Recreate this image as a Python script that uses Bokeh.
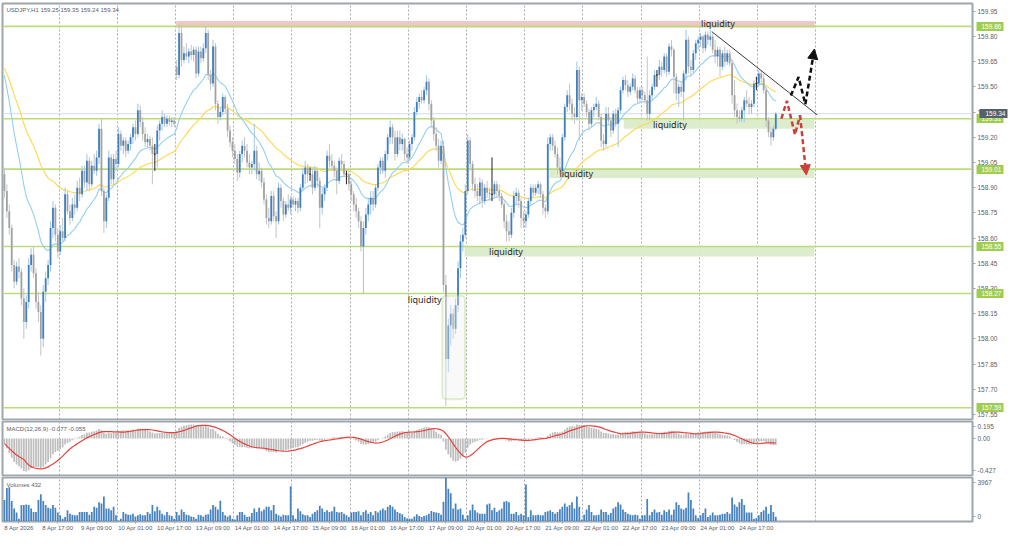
from bokeh.plotting import figure
from bokeh.layouts import column
from bokeh.models import (Range1d, FixedTicker, Label, BoxAnnotation, Arrow, NormalHead,
                          ColumnDataSource, Grid, NumeralTickFormatter, LinearAxis)
from bokeh.core.properties import value
from bokeh.embed import file_html
from bokeh.resources import INLINE

# ---------------- data (USDJPY H1) ----------------
opens = [
158.98,158.88,158.76,158.66,158.44,158.34,158.43,158.40,158.24,158.10,
158.22,158.44,158.50,158.39,158.22,158.16,158.00,158.28,158.36,158.44,
158.66,158.78,158.62,158.52,158.64,158.60,158.86,158.76,158.72,158.80,
158.78,158.90,158.86,159.00,158.93,159.06,158.92,159.03,159.00,159.08,
159.25,158.88,158.70,158.84,159.08,158.95,159.07,159.04,159.22,159.15,
159.18,159.12,159.16,159.20,159.26,159.22,159.36,159.29,159.22,159.17,
159.19,159.15,159.10,159.10,159.24,159.28,159.32,159.28,159.31,159.29,
159.30,159.62,159.57,159.82,159.66,159.70,159.68,159.71,159.69,159.72,
159.58,159.71,159.67,159.73,159.82,159.57,159.52,159.74,159.40,159.32,
159.35,159.44,159.37,159.24,159.17,159.12,159.07,158.99,159.10,159.15,
159.12,159.05,159.02,159.04,159.12,158.98,159.00,158.93,158.83,158.72,
158.70,158.85,158.73,158.70,158.90,158.82,158.74,158.80,158.78,158.83,
158.80,158.82,158.78,158.90,158.98,159.02,158.98,158.98,158.90,159.00,
158.94,158.78,158.86,158.90,159.09,159.06,159.03,159.00,158.94,159.06,
159.04,158.98,158.98,158.92,158.86,158.80,158.76,158.70,158.55,158.66,
158.74,158.80,158.84,158.80,158.90,159.02,159.06,159.00,159.10,159.20,
159.26,159.20,159.10,159.20,159.16,159.19,159.10,159.08,159.16,159.20,
159.35,159.41,159.44,159.42,159.48,159.53,159.40,159.30,159.22,159.15,
159.06,159.15,158.32,157.88,158.08,158.15,158.06,158.20,158.42,158.58,
158.62,158.88,159.18,159.04,158.92,158.88,158.85,158.93,158.82,158.90,
158.87,158.86,158.86,158.92,158.88,158.85,158.80,158.70,158.64,158.62,
158.75,158.85,158.87,158.82,158.72,158.70,158.74,158.82,158.90,158.87,
158.90,158.92,158.86,158.78,158.76,159.16,159.20,159.15,159.10,159.02,
159.00,159.20,159.38,159.45,159.40,159.34,159.32,159.60,159.42,159.44,
159.40,159.35,159.28,159.36,159.38,159.40,159.32,159.18,159.16,159.34,
159.30,159.24,159.34,159.28,159.36,159.48,159.54,159.51,159.47,159.50,
159.55,159.48,159.43,159.48,159.45,159.42,159.34,159.45,159.50,159.57,
159.57,159.62,159.60,159.68,159.59,159.74,159.72,159.56,159.46,159.50,
159.47,159.58,159.78,159.62,159.60,159.70,159.76,159.78,159.80,159.73,
159.81,159.78,159.80,159.72,159.68,159.72,159.62,159.70,159.65,159.70,
159.64,159.45,159.36,159.32,159.31,159.36,159.42,159.40,159.38,159.40,
159.52,159.52,159.58,159.55,159.48,159.30,159.23,159.20,159.25]
highs = [
159.02,158.92,158.80,158.68,158.47,158.46,158.48,158.42,158.30,158.26,
158.48,158.54,158.55,158.42,158.28,158.20,158.32,158.40,158.47,158.70,
158.82,158.80,158.66,158.68,158.72,158.90,158.88,158.80,158.84,158.86,
158.94,158.96,159.03,159.03,159.10,159.08,159.06,159.10,159.12,159.28,
159.31,158.90,158.86,159.12,159.10,159.10,159.12,159.26,159.24,159.20,
159.20,159.18,159.22,159.28,159.30,159.40,159.39,159.32,159.26,159.22,
159.21,159.20,159.16,159.27,159.30,159.36,159.34,159.33,159.33,159.32,
159.32,159.66,159.87,159.86,159.74,159.76,159.73,159.75,159.74,159.74,
159.74,159.74,159.76,159.86,159.84,159.60,159.78,159.76,159.42,159.38,
159.46,159.45,159.40,159.27,159.20,159.16,159.10,159.12,159.18,159.20,
159.16,159.10,159.06,159.28,159.15,159.05,159.02,158.96,158.86,158.78,
158.88,158.88,158.76,158.93,158.92,158.84,158.82,158.86,158.85,158.85,
158.84,158.84,158.92,159.02,159.06,159.04,159.02,159.02,159.03,159.02,
158.96,158.90,158.92,159.12,159.16,159.10,159.06,159.02,159.08,159.10,
159.06,159.00,159.00,158.94,158.88,158.84,158.78,158.73,158.70,158.78,
158.84,158.88,158.88,158.92,159.04,159.08,159.08,159.12,159.22,159.30,
159.28,159.24,159.24,159.24,159.22,159.20,159.14,159.18,159.22,159.38,
159.44,159.46,159.48,159.50,159.57,159.55,159.42,159.32,159.26,159.19,
159.18,159.18,158.38,158.12,158.20,158.18,158.24,158.46,158.62,158.66,
158.92,159.22,159.20,159.06,158.96,158.92,158.96,158.95,158.92,158.94,
158.90,159.08,158.94,158.94,158.92,158.87,158.82,158.74,158.70,158.78,
158.88,158.90,158.89,158.84,158.76,158.76,158.84,158.92,158.92,158.92,
158.94,158.93,158.88,158.80,159.20,159.22,159.22,159.18,159.14,159.08,
159.22,159.40,159.48,159.52,159.43,159.38,159.65,159.62,159.46,159.46,
159.42,159.37,159.38,159.40,159.44,159.42,159.34,159.22,159.38,159.38,
159.32,159.36,159.37,159.38,159.50,159.56,159.57,159.54,159.52,159.58,
159.57,159.50,159.50,159.50,159.47,159.68,159.48,159.52,159.60,159.60,
159.66,159.65,159.70,159.70,159.76,159.78,159.73,159.58,159.52,159.53,
159.60,159.84,159.80,159.66,159.72,159.78,159.80,159.82,159.81,159.83,
159.83,159.84,159.82,159.78,159.74,159.74,159.72,159.74,159.72,159.72,
159.66,159.54,159.40,159.36,159.38,159.44,159.48,159.44,159.42,159.54,
159.56,159.60,159.60,159.58,159.50,159.32,159.26,159.27,159.35]
lows = [
158.84,158.72,158.62,158.40,158.30,158.32,158.36,158.20,158.00,158.06,
158.18,158.40,158.36,158.18,158.10,157.90,157.95,158.22,158.32,158.40,
158.60,158.58,158.48,158.50,158.58,158.58,158.74,158.68,158.70,158.74,
158.76,158.82,158.84,158.90,158.88,158.88,158.90,158.98,158.97,159.04,
158.85,158.63,158.66,158.82,158.92,158.92,159.00,159.02,159.12,159.10,
159.08,159.10,159.12,159.16,159.18,159.20,159.26,159.18,159.14,159.14,
159.12,158.92,159.00,159.02,159.18,159.24,159.26,159.26,159.27,159.26,
159.26,159.54,159.55,159.62,159.64,159.66,159.64,159.66,159.65,159.55,
159.56,159.64,159.65,159.70,159.54,159.48,159.50,159.36,159.28,159.30,
159.33,159.34,159.20,159.14,159.08,159.04,158.94,158.96,159.05,159.08,
159.02,158.98,158.98,159.00,158.95,158.94,158.90,158.80,158.68,158.66,
158.68,158.70,158.60,158.68,158.78,158.70,158.72,158.76,158.74,158.78,
158.76,158.75,158.76,158.88,158.92,158.93,158.94,158.86,158.88,158.90,
158.66,158.74,158.82,158.88,159.02,159.00,158.96,158.86,158.92,159.00,
158.96,158.92,158.88,158.82,158.76,158.72,158.66,158.52,158.27,158.62,
158.70,158.74,158.76,158.78,158.88,158.98,158.98,158.96,159.06,159.16,
159.16,159.06,159.08,159.12,159.12,159.06,159.04,159.06,159.12,159.18,
159.33,159.37,159.40,159.40,159.45,159.36,159.26,159.18,159.12,159.02,
159.04,158.28,157.60,157.80,157.96,158.00,158.03,158.16,158.36,158.52,
158.60,158.86,159.00,158.88,158.84,158.82,158.80,158.78,158.80,158.84,
158.82,158.82,158.84,158.84,158.82,158.78,158.66,158.58,158.58,158.60,
158.72,158.80,158.78,158.66,158.66,158.66,158.72,158.80,158.84,158.85,
158.86,158.84,158.74,158.72,158.74,159.12,159.12,159.08,158.98,158.98,
158.98,159.18,159.35,159.36,159.30,159.28,159.30,159.18,159.36,159.38,
159.32,159.24,159.26,159.32,159.36,159.30,159.14,159.12,159.14,159.28,
159.20,159.22,159.26,159.14,159.34,159.46,159.48,159.44,159.45,159.48,
159.46,159.40,159.41,159.42,159.40,159.30,159.30,159.42,159.48,159.50,
159.54,159.56,159.58,159.56,159.57,159.68,159.46,159.42,159.38,159.44,
159.30,159.54,159.58,159.56,159.58,159.66,159.72,159.74,159.70,159.71,
159.75,159.74,159.70,159.64,159.62,159.56,159.60,159.62,159.63,159.62,
159.40,159.32,159.28,159.29,159.29,159.29,159.38,159.34,159.34,159.38,
159.48,159.50,159.52,159.46,159.26,159.20,159.15,159.18,159.24]
closes = [
158.88,158.76,158.66,158.44,158.34,158.43,158.40,158.24,158.10,158.22,
158.44,158.50,158.39,158.22,158.16,158.00,158.28,158.36,158.44,158.66,
158.78,158.62,158.52,158.64,158.60,158.86,158.76,158.72,158.80,158.78,
158.90,158.86,159.00,158.93,159.06,158.92,159.03,159.00,159.08,159.25,
158.88,158.70,158.84,159.08,158.95,159.07,159.04,159.22,159.15,159.18,
159.12,159.16,159.20,159.26,159.22,159.36,159.29,159.22,159.17,159.19,
159.15,159.10,159.10,159.24,159.28,159.32,159.28,159.31,159.29,159.30,
159.28,159.57,159.82,159.66,159.70,159.68,159.71,159.69,159.72,159.58,
159.71,159.67,159.73,159.82,159.57,159.52,159.74,159.40,159.32,159.35,
159.44,159.37,159.24,159.17,159.12,159.07,158.99,159.10,159.15,159.12,
159.05,159.02,159.04,159.12,158.98,159.00,158.93,158.83,158.72,158.70,
158.85,158.73,158.70,158.90,158.82,158.74,158.80,158.78,158.83,158.80,
158.82,158.78,158.90,158.98,159.02,158.98,158.98,158.90,159.00,158.94,
158.78,158.86,158.90,159.09,159.06,159.03,159.00,158.94,159.06,159.04,
158.98,158.98,158.92,158.86,158.80,158.76,158.70,158.55,158.66,158.74,
158.80,158.84,158.80,158.90,159.02,159.06,159.00,159.10,159.20,159.26,
159.20,159.10,159.20,159.16,159.19,159.10,159.08,159.16,159.20,159.35,
159.41,159.44,159.42,159.48,159.53,159.40,159.30,159.22,159.15,159.06,
159.15,158.32,157.88,158.08,158.15,158.06,158.20,158.42,158.58,158.62,
158.88,159.18,159.04,158.92,158.88,158.85,158.93,158.82,158.90,158.87,
158.86,158.86,158.92,158.88,158.85,158.80,158.70,158.64,158.62,158.75,
158.85,158.87,158.82,158.72,158.70,158.74,158.82,158.90,158.87,158.90,
158.92,158.86,158.78,158.76,159.16,159.20,159.15,159.10,159.02,159.00,
159.20,159.38,159.45,159.40,159.34,159.32,159.60,159.42,159.44,159.40,
159.35,159.28,159.36,159.38,159.40,159.32,159.18,159.16,159.34,159.30,
159.24,159.34,159.28,159.36,159.48,159.54,159.51,159.47,159.50,159.55,
159.48,159.43,159.48,159.45,159.42,159.34,159.45,159.50,159.57,159.57,
159.62,159.60,159.68,159.59,159.74,159.72,159.56,159.46,159.50,159.47,
159.58,159.78,159.62,159.60,159.70,159.76,159.78,159.80,159.73,159.81,
159.78,159.80,159.72,159.68,159.72,159.62,159.70,159.65,159.70,159.64,
159.45,159.36,159.32,159.31,159.36,159.42,159.40,159.38,159.40,159.52,
159.52,159.58,159.55,159.48,159.30,159.23,159.20,159.25,159.34]
volumes = [
1940,3018,3080,1848,1170,801,246,1478,1478,1540,
1478,1170,862,862,1940,2464,1848,1478,1232,1170,
1478,1232,801,554,246,400,1016,708,616,554,
554,862,862,862,862,616,862,1324,1232,1725,
1632,2248,1170,1170,1016,1324,554,92,246,862,
708,616,616,708,462,554,647,554,554,862,
708,1478,924,1324,1016,708,554,862,554,493,
246,862,554,1078,862,616,554,462,400,246,
616,554,462,616,647,1078,1478,1324,1078,1879,
862,554,462,554,246,185,554,862,862,616,
400,462,770,1170,862,1232,924,1078,1324,1324,
1016,1478,708,554,462,616,554,554,3172,554,
246,1170,924,647,554,554,400,708,862,1016,
1417,1170,862,1016,862,924,1324,862,801,862,
708,554,400,801,862,862,924,554,862,1016,
708,862,554,955,801,1016,1170,1016,1324,1478,
1324,1078,862,739,647,400,277,277,246,462,
647,493,400,493,554,708,955,862,801,770,
616,1786,3942,2957,2556,1170,1632,1078,1170,616,
246,554,1016,1540,1016,801,708,708,708,1540,
1632,1016,1232,862,1016,1170,1786,1848,1725,708,
708,862,554,708,554,3326,400,1016,554,554,
616,554,554,862,924,1016,862,708,862,1109,
1324,1632,1324,1478,1725,1170,2248,1324,185,616,
1078,1478,862,554,554,616,1078,862,862,616,
770,1170,1324,1725,1540,1078,862,708,616,554,
616,554,246,554,554,2033,554,862,1078,801,
862,616,1016,862,1078,616,1078,1725,1478,1170,
1078,1232,2618,1940,1170,554,308,554,770,1170,
400,554,801,554,554,616,708,708,862,708,
2156,1540,1324,1725,2033,1478,801,801,801,246,
308,554,862,1016,1324,708,1478,862,432]

ma_seed = 159.64          # level of the averages when the window opens
level_prices = [159.86, 159.31, 159.01, 158.55, 158.27, 157.59]
price_ticks = [157.55, 157.70, 157.85, 158.00, 158.15, 158.30, 158.45, 158.60, 158.75,
               158.90, 159.05, 159.20, 159.35, 159.50, 159.65, 159.80, 159.95]
time_labels = ["8 Apr 2026", "8 Apr 17:00", "9 Apr 09:00", "10 Apr 01:00", "10 Apr 17:00",
               "13 Apr 09:00", "14 Apr 01:00", "14 Apr 17:00", "15 Apr 09:00", "16 Apr 01:00",
               "16 Apr 17:00", "17 Apr 09:00", "20 Apr 01:00", "20 Apr 17:00", "21 Apr 09:00",
               "22 Apr 01:00", "22 Apr 17:00", "23 Apr 09:00", "24 Apr 01:00", "24 Apr 17:00"]
time_label_bars = [0, 16, 32, 48, 64, 80, 96, 112, 128, 144, 160, 176, 192, 208, 224,
                   240, 256, 272, 288, 304]
day_starts = [23, 47, 71, 95, 119, 143, 167, 191, 215, 239, 263, 287, 311, 335]

# zones (bar index / price)
pink_zone = dict(left=70.9, right=333.9, bottom=159.855, top=159.89)
green_left = [255.3, 224.7, 189.7]
green_right = [333.9, 333.9, 333.9]
green_bottom = [159.25, 158.958, 158.49]
green_top = [159.305, 159.016, 158.55]
sweep_box = dict(left=180.5, right=189.9, bottom=157.64, top=158.257)
liq_x = [287.2, 267.4, 228.8, 199.8, 166.3]
liq_y = [159.874, 159.277, 158.985, 158.52, 158.236]
trend_x = [291.6, 335.1]
trend_y = [159.829, 159.333]
up_path_x = [324.2, 327.4, 330.2, 333.9]
up_path_y = [159.448, 159.558, 159.396, 159.725]
down_path_x = [320.3, 322.6, 325.9, 328.0, 330.6]
down_path_y = [159.311, 159.417, 159.215, 159.331, 158.975]

# ---------------- indicators ----------------
def ema(vals, period, seed):
    k = 2.0 / (period + 1)
    e = seed
    out = []
    for v in vals:
        e += k * (v - e)
        out.append(e)
    return out

n = len(closes)
idx = list(range(n))
ema20 = ema(closes, 20, ma_seed)
ema50 = ema(closes, 50, ma_seed)
macd = [a - b for a, b in zip(ema(closes, 12, ma_seed), ema(closes, 26, ma_seed))]
signal = []
for i in range(n):
    w = macd[max(0, i - 8):i + 1]
    signal.append(sum(w) / len(w))

# ---------------- layout ----------------
W = 1008
FRAME = "#9ea6ae"
TXT = "#5b6068"
AXF = "Liberation Sans"
YFS = "6.5px"
xr = Range1d(-0.8, 399.1)


def pane(h, yr, top, bottom, with_x=False):
    f = figure(width=W, height=h, x_range=xr, y_range=yr, output_backend="svg",
               toolbar_location=None, x_axis_location="below" if with_x else None,
               y_axis_location="right", min_border_left=2, min_border_right=31,
               min_border_top=top, min_border_bottom=bottom,
               background_fill_color="white", border_fill_color="white")
    f.outline_line_color = FRAME
    f.outline_line_width = 2
    f.grid.visible = False
    f.add_layout(Grid(dimension=0, ticker=FixedTicker(ticks=[d - 0.5 for d in day_starts]),
                      grid_line_color="#a7adb4", grid_line_dash="2 2", grid_line_width=1))
    ax = f.yaxis[0]
    ax.axis_line_color = FRAME
    ax.major_tick_line_color = FRAME
    ax.major_tick_out = 3
    ax.major_tick_in = 0
    ax.minor_tick_line_color = None
    ax.major_label_standoff = 2
    ax.major_label_text_font = AXF
    ax.major_label_text_font_size = YFS
    ax.major_label_text_color = TXT
    return f


def tag_axis(ticks, color, tick_in, standoff):
    a = LinearAxis(ticker=FixedTicker(ticks=ticks), formatter=NumeralTickFormatter(format="0.00"))
    a.axis_line_color = None
    a.minor_tick_line_color = None
    a.major_tick_line_color = color
    a.major_tick_line_width = 9
    a.major_tick_line_cap = "butt"
    a.major_tick_in = tick_in
    a.major_tick_out = 3
    a.major_label_standoff = standoff
    a.major_label_text_font = AXF
    a.major_label_text_font_size = YFS
    a.major_label_text_color = "white"
    return a


# ---- price pane ----
p1 = pane(420, Range1d(157.52, 159.996), 3, 1)
p1.yaxis.ticker = FixedTicker(ticks=price_ticks)
p1.yaxis.formatter = NumeralTickFormatter(format="0.00")
p1.add_layout(tag_axis(level_prices, "#9fcd4f", 24, -22), "right")
p1.add_layout(tag_axis([closes[-1]], "#56606b", 25, -22), "right")

p1.add_layout(BoxAnnotation(level="underlay", fill_color="#eec4c4", fill_alpha=0.95,
                            line_color="#e3acac", line_width=1, **pink_zone))
for l, r, b, t in zip(green_left, green_right, green_bottom, green_top):
    p1.add_layout(BoxAnnotation(left=l, right=r, bottom=b, top=t, level="underlay",
                                fill_color="#dcebcb", fill_alpha=0.95, line_color=None))

for lv in level_prices:
    p1.line([xr.start, xr.end], [lv, lv], line_color="#bbdc7a", line_width=1.6)
p1.line([xr.start, xr.end], [closes[-1], closes[-1]], line_color="#d3dcec", line_width=1)

p1.line(idx, ema50, line_color="#ffd84a", line_width=1.1)
p1.line(idx, ema20, line_color="#93cff0", line_width=1.1)

bull = [i for i in idx if closes[i] > opens[i]]
bear = [i for i in idx if closes[i] < opens[i]]
doji = [i for i in idx if closes[i] == opens[i]]


def csrc(sel):
    return ColumnDataSource(dict(
        x=sel,
        hi=[max(highs[i], opens[i], closes[i]) for i in sel],
        lo=[min(lows[i], opens[i], closes[i]) for i in sel],
        top=[max(opens[i], closes[i]) for i in sel],
        bot=[min(opens[i], closes[i]) for i in sel],
        xl=[i - 0.38 for i in sel], xr=[i + 0.38 for i in sel], c=[closes[i] for i in sel]))


sb, sr, sd = csrc(bull), csrc(bear), csrc(doji)
p1.segment("x", "lo", "x", "hi", source=sb, line_color="#9fc5e8", line_width=1)
p1.segment("x", "lo", "x", "hi", source=sr, line_color="#c4c4c4", line_width=1)
p1.segment("x", "lo", "x", "hi", source=sd, line_color="#222222", line_width=1)
p1.vbar(x="x", top="top", bottom="bot", width=0.74, source=sb, fill_color="#3f7fbf", line_color=None)
p1.vbar(x="x", top="top", bottom="bot", width=0.74, source=sr, fill_color="#a2a2a2", line_color=None)
p1.segment("xl", "c", "xr", "c", source=sd, line_color="#222222", line_width=1)

p1.add_layout(BoxAnnotation(left=sweep_box["left"], right=sweep_box["right"],
                            bottom=sweep_box["bottom"], top=sweep_box["top"],
                            fill_color="#eeeeee", fill_alpha=0.35, line_color="#9bd05e",
                            line_width=2, border_radius=4))

p1.line(trend_x, trend_y, line_color="#3a3a3a", line_width=1)

p1.line(up_path_x[:-1], up_path_y[:-1], line_color="#111111", line_width=2.5, line_dash="5 3")
p1.add_layout(Arrow(end=NormalHead(size=10, fill_color="#111111", line_color="#111111"),
                    x_start=up_path_x[-2], y_start=up_path_y[-2],
                    x_end=up_path_x[-1], y_end=up_path_y[-1],
                    line_color="#111111", line_width=2.5, line_dash="5 3"))
p1.line(down_path_x[:-1], down_path_y[:-1], line_color="#c8413b", line_width=2.5, line_dash="5 3")
p1.add_layout(Arrow(end=NormalHead(size=10, fill_color="#c8413b", line_color="#c8413b"),
                    x_start=down_path_x[-2], y_start=down_path_y[-2],
                    x_end=down_path_x[-1], y_end=down_path_y[-1],
                    line_color="#c8413b", line_width=2.5, line_dash="5 3"))

p1.text(x=liq_x, y=liq_y, text=["liquidity"] * len(liq_x), text_font=value("Noto Sans"),
        text_font_size="9px", text_color="#2a2a2a", text_baseline="middle", text_align="left")

p1.add_layout(Label(x=xr.start, y=159.996, x_offset=4, y_offset=-3,
                    text="USDJPY,H1  159.25 159.35 159.24 159.34", text_baseline="top",
                    text_font=AXF, text_font_size="6px", text_color=TXT))

# ---- MACD pane ----
p2 = pane(56, Range1d(-0.427, 0.195), 1, 1)
p2.vbar(x=idx, top=macd, bottom=0, width=0.7, fill_color="#bdbdbd", line_color=None)
p2.line(idx, signal, line_color="#e8413a", line_width=1.2)
p2.yaxis.ticker = FixedTicker(ticks=[0.136, 0.0, -0.37])
p2.yaxis.major_label_overrides = {0.136: "0.195", 0: "0.00", -0.37: "-0.427"}
p2.add_layout(Label(x=xr.start, y=0.195, x_offset=4, y_offset=-4,
                    text="MACD(12,26,9) -0.077 -0.055", text_baseline="top",
                    text_font=AXF, text_font_size="6px", text_color=TXT))

# ---- Volume pane ----
p3 = pane(59, Range1d(0, 3967), 1, 14, with_x=True)
p3.vbar(x=idx, top=volumes, bottom=0, width=0.72, fill_color="#4682c0", line_color=None)
p3.yaxis.ticker = FixedTicker(ticks=[3560, 420])
p3.yaxis.major_label_overrides = {3560: "3967", 420: "0"}
p3.add_layout(Label(x=xr.start, y=3967, x_offset=4, y_offset=-4,
                    text="Volumes 432", text_baseline="top",
                    text_font=AXF, text_font_size="6px", text_color=TXT))
xa = p3.xaxis[0]
xa.ticker = FixedTicker(ticks=[b + 6 for b in time_label_bars])
xa.major_label_overrides = {b + 6: t for b, t in zip(time_label_bars, time_labels)}
xa.axis_line_color = FRAME
xa.major_tick_line_color = FRAME
xa.major_tick_out = 2
xa.major_tick_in = 0
xa.minor_tick_line_color = None
xa.major_label_standoff = 1
xa.major_label_text_font = AXF
xa.major_label_text_font_size = "6px"
xa.major_label_text_color = TXT

layout = column(p1, p2, p3, spacing=0)
open("out.html", "w").write(file_html(layout, INLINE))
